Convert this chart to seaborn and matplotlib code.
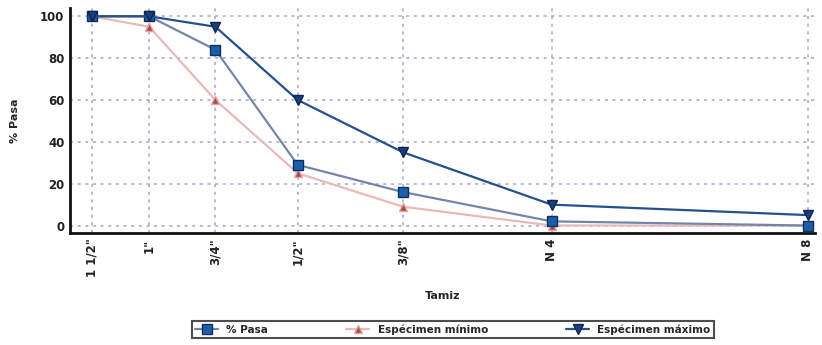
import matplotlib
matplotlib.use("Agg")
import matplotlib.pyplot as plt
import seaborn as sns
import pandas as pd
import numpy as np

# Sieve labels and their positions along the x axis
tamices = ['1 1/2"', '1"', '3/4"', '1/2"', '3/8"', 'N 4', 'N 8']
tamiz_pos = [0, 57, 123, 205, 310, 458, 713]

pasa = [100, 100, 84, 29, 16, 2, 0]
esp_min = [100, 95, 60, 25, 9, 0, 0]
esp_max = [100, 100, 95, 60, 35, 10, 5]

sns.set_style("white")
plt.rcParams['font.family'] = ['DejaVu Sans']

fig = plt.figure(figsize=(8.22, 3.45), dpi=100)
ax = fig.add_axes([0.085, 0.325, 0.906, 0.652])

series = [
    ("Espécimen mínimo", esp_min, "#e9b9b9", "^", "#a0504f", "#e8a0a0", 6),
    ("% Pasa", pasa, "#7486a8", "s", "#1d5ea8", "#0d2f63", 7),
    ("Espécimen máximo", esp_max, "#24508f", "v", "#1b3f7a", "#0d2550", 7),
]
for name, vals, lc, mk, mfc, mec, ms in series:
    df = pd.DataFrame({"Tamiz": tamiz_pos, "valor": vals})
    sns.lineplot(data=df, x="Tamiz", y="valor", ax=ax, color=lc, lw=1.6,
                 marker=mk, markersize=ms, markerfacecolor=mfc,
                 markeredgecolor=mec, markeredgewidth=1.0, label=name)

ax.set_xlim(-22, 720)
ax.set_ylim(-3.5, 104)
ax.set_xticks(tamiz_pos)
ax.set_xticklabels(tamices, rotation=90, fontsize=8.5, fontweight='bold', color='#222222')
ax.set_yticks([0, 20, 40, 60, 80, 100])
ax.tick_params(axis='y', labelsize=8.5, colors='#222222')
for t in ax.get_yticklabels():
    t.set_fontweight('bold')
ax.tick_params(axis='both', length=0, pad=4)

ax.grid(True, color='#9fa9c6', linestyle=(0, (2, 3)), linewidth=1.1)
for s in ['top', 'right']:
    ax.spines[s].set_visible(False)
for s in ['left', 'bottom']:
    ax.spines[s].set_color('#111111')
    ax.spines[s].set_linewidth(2)

ax.set_xlabel("Tamiz", fontsize=8, fontweight='bold', labelpad=10)
ax.set_ylabel("% Pasa", fontsize=8, fontweight='bold', labelpad=14)

# legend in display order, placed below the axes
h, l = ax.get_legend_handles_labels()
ax.get_legend().remove()
order = [1, 0, 2]
leg = fig.legend([h[i] for i in order], [l[i] for i in order], loc='center',
                 bbox_to_anchor=(0.551, 0.045), ncol=3, frameon=True, fancybox=False,
                 fontsize=7.5, columnspacing=7.5, handlelength=2.2, borderpad=0.3)
leg.get_frame().set_edgecolor('#222222')
leg.get_frame().set_linewidth(1.5)
for t in leg.get_texts():
    t.set_fontweight('bold')

fig.savefig("out.png", dpi=100)
